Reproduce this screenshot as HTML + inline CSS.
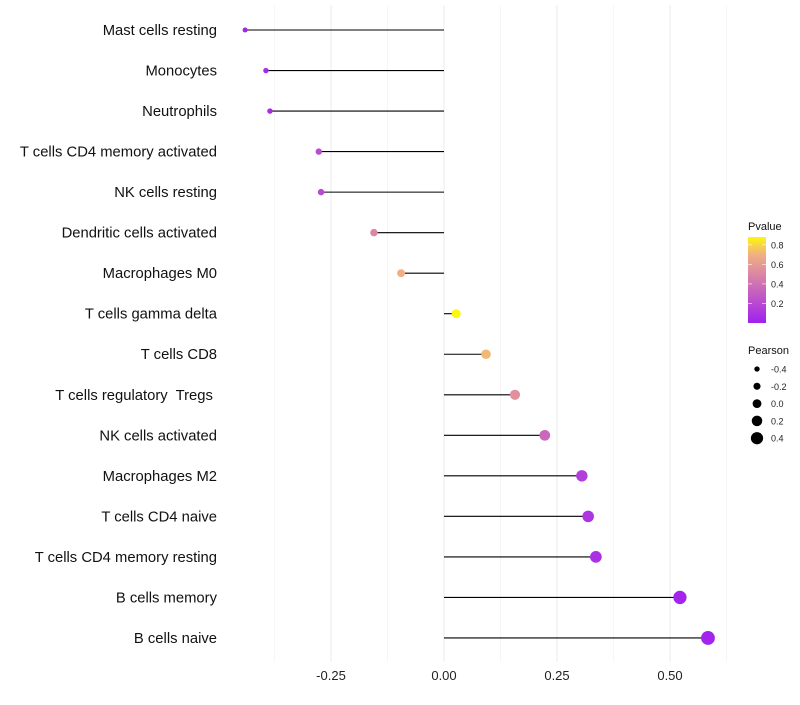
<!DOCTYPE html>
<html><head><meta charset="utf-8"><style>
body{margin:0;background:#fff;font-family:"Liberation Sans",sans-serif}
text{white-space:pre}
</style></head><body>
<svg id="c" width="800" height="700"></svg>
<script>
const cats=["Mast cells resting","Monocytes","Neutrophils","T cells CD4 memory activated","NK cells resting","Dendritic cells activated","Macrophages M0","T cells gamma delta","T cells CD8","T cells regulatory  Tregs ","NK cells activated","Macrophages M2","T cells CD4 naive","T cells CD4 memory resting","B cells memory","B cells naive"];
const pearson=[-0.44,-0.394,-0.385,-0.277,-0.272,-0.155,-0.095,0.027,0.093,0.157,0.223,0.305,0.319,0.336,0.522,0.584];
const pvals=[0.02,0.05,0.05,0.22,0.2,0.5,0.7,0.88,0.72,0.55,0.35,0.15,0.1,0.08,0.02,0.02];
const xTicks=[-0.25,0,0.25,0.5];
const xTickLabels=["-0.25","0.00","0.25","0.50"];
const pLegend=[0.8,0.6,0.4,0.2];
const sLegend=[-0.4,-0.2,0.0,0.2,0.4];
const sLegendLabels=["-0.4","-0.2","0.0","0.2","0.4"];
const NS="http://www.w3.org/2000/svg";
const svg=document.getElementById('c');
const X=v=>444+v*452;
const Y=i=>30+i*40.53;
const R=v=>4.4+4.3*v;
function mk(t,a,p){const e=document.createElementNS(NS,t);for(const k in a)e.setAttribute(k,a[k]);(p||svg).appendChild(e);return e;}
function lerp(a,b,t){return a.map((x,i)=>Math.round(x+(b[i]-x)*t));}
const stops=[[0,[160,32,240]],[0.45,[214,124,172]],[0.7,[240,176,130]],[0.9,[255,255,0]]];
function col(p){p=Math.max(0,Math.min(0.9,p));for(let i=0;i<stops.length-1;i++){if(p<=stops[i+1][0]){const t=(p-stops[i][0])/(stops[i+1][0]-stops[i][0]);const c=lerp(stops[i][1],stops[i+1][1],t);return `rgb(${c})`;}}return 'rgb(255,255,0)';}
for(let k=-3;k<=5;k++){const g=k*0.125;const major=(k%2===0);const l=mk('line',{x1:X(g),x2:X(g),y1:5,y2:662,stroke:major?'#ebebeb':'#f3f3f3','stroke-width':major?1:0.7});
}
xTicks.forEach((v,i)=>{const t=mk('text',{x:X(v),y:680,'text-anchor':'middle','font-size':13,fill:'#222'});t.textContent=xTickLabels[i];
});
cats.forEach((c,i)=>{
const t=mk('text',{x:217,y:Y(i)+5,'text-anchor':'end','font-size':14.8,fill:'#111'});t.textContent=c;

const l=mk('line',{x1:X(0),x2:X(pearson[i]),y1:Y(i),y2:Y(i),stroke:'#000','stroke-width':1.1});

const d=mk('circle',{cx:X(pearson[i]),cy:Y(i),r:R(pearson[i]),fill:col(pvals[i])});

});
const lt=mk('text',{x:748,y:230,'font-size':11,fill:'#111'});lt.textContent='Pvalue';

const defs=mk('defs',{});const gr=mk('linearGradient',{id:'pg',x1:0,y1:1,x2:0,y2:0},defs);
for(let k=0;k<=10;k++){const p=k*0.088;mk('stop',{offset:k/10,'stop-color':col(p)},gr);}
const cb=mk('rect',{x:748,y:237,width:18,height:86,fill:'url(#pg)'});

pLegend.forEach(v=>{const y=323-v/0.88*86;
mk('line',{x1:748,x2:752,y1:y,y2:y,stroke:'#fff','stroke-width':0.6});mk('line',{x1:762,x2:766,y1:y,y2:y,stroke:'#fff','stroke-width':0.6});
const t=mk('text',{x:771,y:y+3.5,'font-size':9,fill:'#222'});t.textContent=v.toFixed(1);
});
const st=mk('text',{x:748,y:354,'font-size':11,fill:'#111'});st.textContent='Pearson';

sLegend.forEach((v,i)=>{const y=369+i*17.3;
const c=mk('circle',{cx:757,cy:y,r:R(v),fill:'#000'});

const t=mk('text',{x:771,y:y+3.5,'font-size':9,fill:'#222'});t.textContent=sLegendLabels[i];
});
</script>
</body></html>
